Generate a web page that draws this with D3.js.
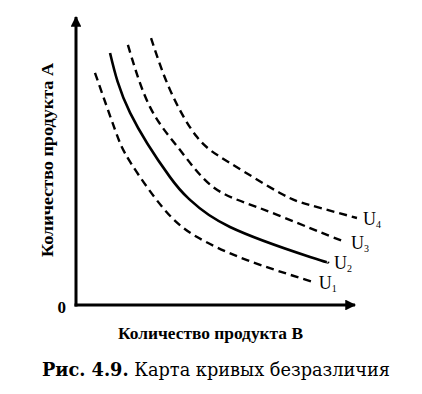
<!DOCTYPE html>
<html>
<head>
<meta charset="utf-8">
<script src="https://cdn.jsdelivr.net/npm/d3@7"></script>
<style>
  body { margin: 0; background: #fff; }
</style>
</head>
<body>
<div id="chart"></div>
<script>
// indifference curves (abstract units 0..10)
const curveNames = ["1", "2", "3", "4"];
const u1 = [[0.68, 8.06], [1.40, 6.08], [1.94, 4.97], [3.12, 3.37], [4.34, 2.36], [6.13, 1.56], [8.49, 0.80]];
const u2 = [[1.22, 8.75], [1.94, 6.67], [3.37, 4.44], [4.09, 3.65], [5.52, 2.71], [8.39, 1.67], [9.03, 1.49]];
const u3 = [[1.86, 9.03], [2.65, 6.88], [3.73, 5.38], [4.91, 4.10], [6.49, 3.40], [8.39, 2.67], [9.64, 2.19]];
const u4 = [[2.69, 9.27], [3.37, 7.47], [4.34, 5.83], [5.52, 4.93], [7.31, 3.89], [8.39, 3.47], [10.07, 3.02]];
const curves = [u1, u2, u3, u4];
const dashed = [true, false, true, true];

const xTitle = "Количество продукта В";
const yTitle = "Количество продукта А";
const captionBold = "Рис. 4.9.";
const captionText = " Карта кривых безразличия";

const width = 422, height = 394;
const margin = { top: 17, right: 67, bottom: 89, left: 76 };
const serif = "'Liberation Serif', 'Times New Roman', serif";
const slab = "'DejaVu Serif', serif";

const svg = d3.select("#chart").append("svg")
    .attr("width", width).attr("height", height)
    .attr("font-family", serif);

const x = d3.scaleLinear().domain([0, 10]).range([margin.left, width - margin.right]);
const y = d3.scaleLinear().domain([0, 10]).range([height - margin.bottom, margin.top]);

// arrow heads
svg.append("defs").append("marker")
    .attr("id", "arrow")
    .attr("viewBox", "0 0 10 10")
    .attr("refX", 9).attr("refY", 5)
    .attr("markerWidth", 5).attr("markerHeight", 3.6)
    .attr("markerUnits", "strokeWidth")
    .attr("orient", "auto")
    .append("path")
    .attr("d", "M0,0 L10,5 L0,10 Z")
    .attr("fill", "#000");

// axes
svg.append("line")
    .attr("x1", x(0)).attr("y1", y(0) + 1.5)
    .attr("x2", x(0)).attr("y2", y(10))
    .attr("stroke", "#000").attr("stroke-width", 3)
    .attr("marker-end", "url(#arrow)");
svg.append("line")
    .attr("x1", x(0) - 1.5).attr("y1", y(0))
    .attr("x2", x(10)).attr("y2", y(0))
    .attr("stroke", "#000").attr("stroke-width", 3)
    .attr("marker-end", "url(#arrow)");

svg.append("text")
    .attr("x", x(0) - 10).attr("y", y(0) + 8)
    .attr("text-anchor", "end")
    .attr("font-size", 17).attr("font-weight", "bold")
    .text("0");

// curves
const line = d3.line()
    .x(d => x(d[0]))
    .y(d => y(d[1]))
    .curve(d3.curveNatural);

svg.selectAll("path.curve")
    .data(curves)
    .join("path")
    .attr("class", "curve")
    .attr("d", line)
    .attr("fill", "none")
    .attr("stroke", "#000")
    .attr("stroke-width", (d, i) => dashed[i] ? 2.4 : 2.6)
    .attr("stroke-dasharray", (d, i) => dashed[i] ? "8,5" : null);

// curve labels
const labels = svg.selectAll("text.ulabel")
    .data(curves)
    .join("text")
    .attr("class", "ulabel")
    .attr("x", d => x(d[d.length - 1][0]) + 6)
    .attr("y", d => y(d[d.length - 1][1]) + 7)
    .attr("font-size", 18);
labels.append("tspan").text("U");
labels.append("tspan")
    .attr("dy", 3)
    .attr("font-size", 10)
    .text((d, i) => curveNames[i]);

// axis titles
svg.append("text")
    .attr("x", 118)
    .attr("y", y(0) + 34)
    .attr("textLength", 185)
    .attr("lengthAdjust", "spacingAndGlyphs")
    .attr("font-size", 17).attr("font-weight", "bold")
    .text(xTitle);

svg.append("text")
    .attr("transform", `translate(${x(0) - 23},257) rotate(-90)`)
    .attr("textLength", 194)
    .attr("lengthAdjust", "spacingAndGlyphs")
    .attr("font-size", 17).attr("font-weight", "bold")
    .text(yTitle);

// caption
const cap = svg.append("text")
    .attr("x", 42)
    .attr("y", y(0) + 71)
    .attr("textLength", 348)
    .attr("lengthAdjust", "spacingAndGlyphs")
    .attr("font-family", slab)
    .attr("font-size", 19);
cap.append("tspan").attr("font-weight", "bold").text(captionBold);
cap.append("tspan").text(captionText);
</script>
</body>
</html>
